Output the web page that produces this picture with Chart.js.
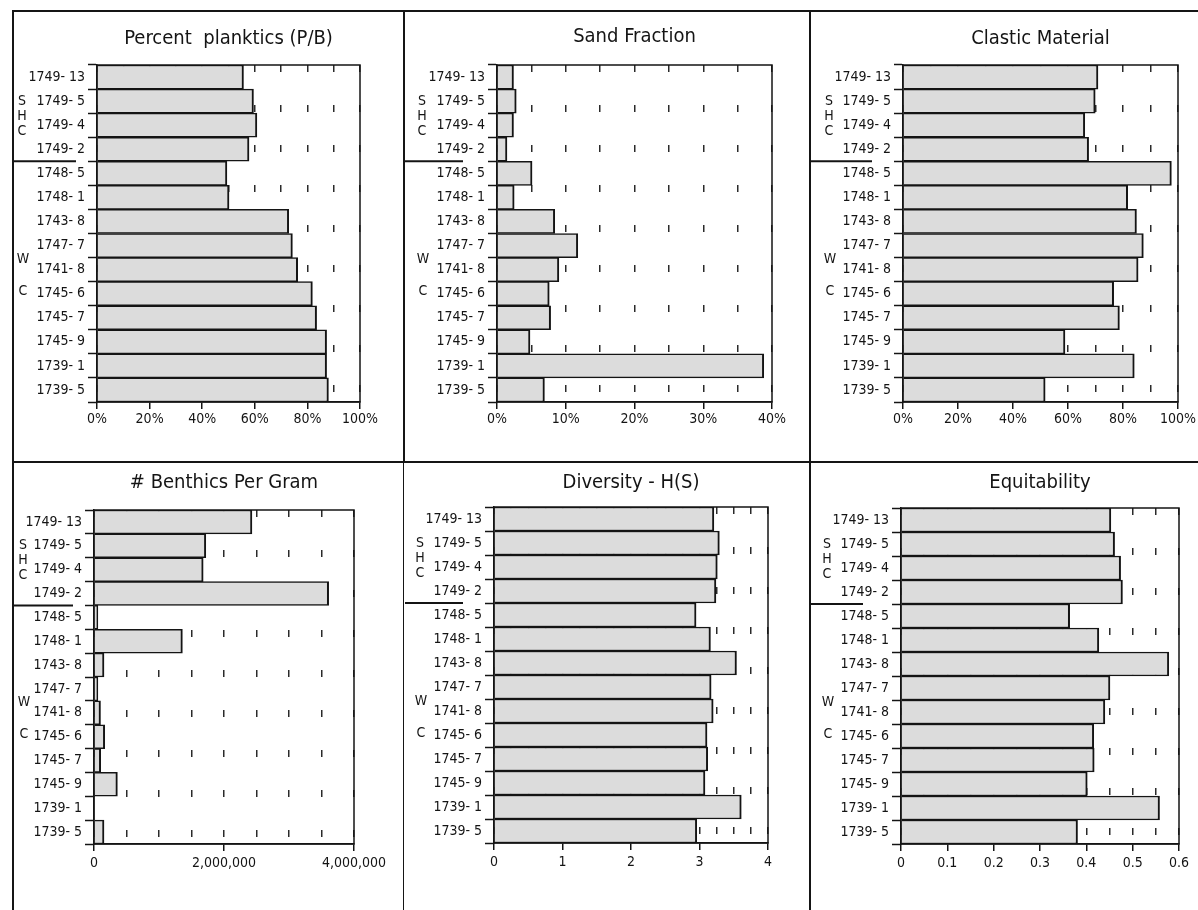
<!DOCTYPE html>
<html>
<head>
<meta charset="utf-8">
<script src="https://cdn.jsdelivr.net/npm/chart.js@4.4.1/dist/chart.umd.min.js"></script>
<style>
  html, body { margin: 0; padding: 0; background: #fff; }
  body { width: 1198px; height: 910px; position: relative; overflow: hidden; }
  canvas { position: absolute; }
  .rule { position: absolute; background: #151515; }
</style>
</head>
<body>
<canvas id="planktics" width="389" height="449" style="left:14px;top:12px"></canvas>
<canvas id="sand" width="404" height="449" style="left:405px;top:12px"></canvas>
<canvas id="clastic" width="387" height="449" style="left:811px;top:12px"></canvas>
<canvas id="benthics" width="389" height="447" style="left:14px;top:463px"></canvas>
<canvas id="diversity" width="404" height="447" style="left:405px;top:463px"></canvas>
<canvas id="equit" width="387" height="447" style="left:811px;top:463px"></canvas>

<div class="rule" style="left:12px;top:10px;width:1186px;height:2px"></div>
<div class="rule" style="left:12px;top:461px;width:1186px;height:2px"></div>
<div class="rule" style="left:12px;top:10px;width:2px;height:900px"></div>
<div class="rule" style="left:403px;top:10px;width:2px;height:453px"></div>
<div class="rule" style="left:403px;top:463px;width:1px;height:447px"></div>
<div class="rule" style="left:809px;top:10px;width:2px;height:900px"></div>

<script>
// samples, top to bottom
const sampleLabels = ['1749- 13', '1749- 5', '1749- 4', '1749- 2', '1748- 5', '1748- 1', '1743- 8',
                      '1747- 7', '1741- 8', '1745- 6', '1745- 7', '1745- 9', '1739- 1', '1739- 5'];

const percentPlanktics = [55.7, 59.5, 60.8, 57.8, 49.4, 50.2, 72.9, 74.3, 76.3, 81.9, 83.5, 87.3, 87.3, 88.0];
const sandFraction = [2.4, 2.8, 2.4, 1.45, 5.1, 2.5, 8.4, 11.75, 9.0, 7.6, 7.8, 4.8, 38.8, 6.9];
const clasticMaterial = [70.9, 69.9, 66.1, 67.5, 97.6, 81.7, 84.9, 87.4, 85.5, 76.6, 78.7, 58.9, 84.1, 51.7];
const benthicsPerGram = [2430000, 1720000, 1680000, 3610000, 60000, 1360000, 154000,
                         60000, 100000, 165000, 103000, 360000, 0, 154000];
const diversityHS = [3.21, 3.29, 3.26, 3.24, 2.95, 3.16, 3.54, 3.17, 3.2, 3.11, 3.12, 3.08, 3.61, 2.96];
const equitability = [0.453, 0.461, 0.474, 0.478, 0.364, 0.427, 0.578, 0.451, 0.44, 0.416, 0.417, 0.402, 0.558, 0.381];

// x tick labels
const percentTicks = ['0%', '20%', '40%', '60%', '80%', '100%'];
const sandTicks = ['0%', '10%', '20%', '30%', '40%'];
const benthicTicks = ['0', '2,000,000', '4,000,000'];
const diversityTicks = ['0', '1', '2', '3', '4'];
const equitTicks = ['0', '0.1', '0.2', '0.3', '0.4', '0.5', '0.6'];

// group letters down the left side
const upperGroup = ['S', 'H', 'C'];
const lowerGroup = ['W', 'C'];

const FONT = '"DejaVu Sans Condensed", "Liberation Sans", sans-serif';
const INK = '#141414';

// title, frame, group letters and the divider line
const panelDecor = {
  id: 'panelDecor',
  afterDraw(chart, args, o) {
    const { ctx, chartArea: a } = chart;
    const y = chart.scales.y;
    ctx.save();
    ctx.strokeStyle = INK;
    ctx.lineWidth = 1.5;
    ctx.strokeRect(a.left, a.top, a.right - a.left, a.bottom - a.top);

    ctx.fillStyle = INK;
    ctx.textAlign = 'center';
    ctx.textBaseline = 'middle';
    ctx.font = '20px ' + FONT;
    ctx.fillText(o.title, (a.left + a.right) / 2, o.titleY);

    ctx.font = '14px ' + FONT;
    const mid = y.getPixelForValue(1.5) + 3;
    upperGroup.forEach((t, i) => ctx.fillText(t, o.letterX, mid + (i - 1) * 15));
    ctx.fillText(lowerGroup[0], o.letterX + 1, y.getPixelForValue(7.5) + 2);
    ctx.fillText(lowerGroup[1], o.letterX + 1, y.getPixelForValue(9) - 2);

    ctx.lineWidth = 2;
    const sy = y.getPixelForValue(3.5);
    ctx.beginPath();
    ctx.moveTo(0, sy);
    ctx.lineTo(o.sepEnd, sy);
    ctx.stroke();
    ctx.restore();
  }
};

function buildPanel(id, title, values, ax, lay) {
  const canvas = document.getElementById(id);
  const isMajor = v => Math.abs(v / ax.major - Math.round(v / ax.major)) < 1e-6;
  new Chart(canvas, {
    type: 'bar',
    data: {
      labels: sampleLabels,
      datasets: [{
        data: values,
        backgroundColor: '#dcdcdc',
        borderColor: INK,
        borderWidth: { top: 1.5, bottom: 1.5, right: 2, left: 0 },
        barPercentage: 1,
        categoryPercentage: 1
      }]
    },
    options: {
      indexAxis: 'y',
      responsive: false,
      animation: false,
      devicePixelRatio: 1,
      layout: {
        padding: { left: 0, top: lay.top, right: canvas.width - lay.right, bottom: canvas.height - lay.bottom - 40 }
      },
      plugins: {
        legend: { display: false },
        tooltip: { enabled: false },
        panelDecor: { title: title, titleY: lay.titleY, letterX: lay.letterX, sepEnd: lay.sepEnd }
      },
      scales: {
        x: {
          type: 'linear',
          min: 0,
          max: ax.max,
          afterFit: s => { s.height = 40; },
          ticks: {
            stepSize: ax.minor,
            autoSkip: false,
            maxRotation: 0,
            color: INK,
            font: { family: FONT, size: 14 },
            padding: lay.tickPad,
            callback: v => isMajor(v) ? ax.labels[Math.round(v / ax.major)] : ''
          },
          grid: {
            color: '#2a2a2a',
            lineWidth: 1.5,
            tickLength: 7,
            tickWidth: 1.5,
            tickColor: c => isMajor(c.tick.value) ? INK : 'rgba(0,0,0,0)'
          },
          border: { display: true, color: INK, width: 1.5, dash: [7, 33] }
        },
        y: {
          afterFit: s => { s.width = lay.left; },
          ticks: { color: INK, font: { family: FONT, size: 14 }, padding: 3 },
          grid: { drawOnChartArea: false, tickLength: 9, tickWidth: 1.5, tickColor: INK },
          border: { display: true, color: INK, width: 1.5 }
        }
      }
    },
    plugins: [panelDecor]
  });
}

buildPanel('planktics', 'Percent  planktics (P/B)', percentPlanktics,
  { max: 100, minor: 10, major: 20, labels: percentTicks },
  { left: 83, right: 346, top: 53, bottom: 390, titleY: 27, letterX: 8, sepEnd: 62, tickPad: 2 });

buildPanel('sand', 'Sand Fraction', sandFraction,
  { max: 40, minor: 5, major: 10, labels: sandTicks },
  { left: 92, right: 367, top: 53, bottom: 390, titleY: 25, letterX: 17, sepEnd: 58, tickPad: 2 });

buildPanel('clastic', 'Clastic Material', clasticMaterial,
  { max: 100, minor: 10, major: 20, labels: percentTicks },
  { left: 92, right: 370, top: 53, bottom: 390, titleY: 27, letterX: 18, sepEnd: 61, tickPad: 2 });

buildPanel('benthics', '# Benthics Per Gram', benthicsPerGram,
  { max: 4000000, minor: 500000, major: 2000000, labels: benthicTicks },
  { left: 80, right: 340, top: 47, bottom: 381, titleY: 20, letterX: 9, sepEnd: 59, tickPad: 4 });

buildPanel('diversity', 'Diversity - H(S)', diversityHS,
  { max: 4, minor: 0.25, major: 1, labels: diversityTicks },
  { left: 89, right: 363, top: 44, bottom: 380, titleY: 20, letterX: 15, sepEnd: 58, tickPad: 4 });

buildPanel('equit', 'Equitability', equitability,
  { max: 0.6, minor: 0.05, major: 0.1, labels: equitTicks },
  { left: 90, right: 368, top: 45, bottom: 381, titleY: 20, letterX: 16, sepEnd: 52, tickPad: 4 });
</script>
</body>
</html>
